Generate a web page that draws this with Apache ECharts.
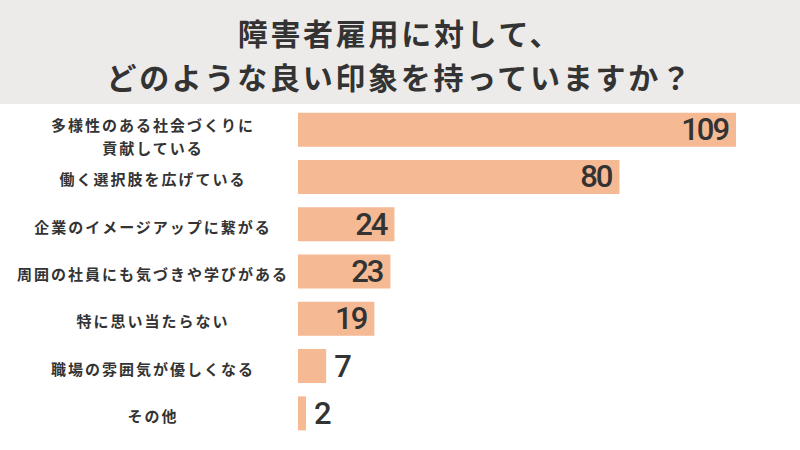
<!DOCTYPE html>
<html>
<head>
<meta charset="utf-8">
<script src="https://cdn.jsdelivr.net/npm/echarts@6/dist/echarts.min.js"></script>
<style>
  html, body { margin: 0; padding: 0; background: #fff; }
  #main { width: 800px; height: 450px; }
  /* 文字間隔（svgレンダラーのtext要素に適用） */
  #main text[style*="30px"] { letter-spacing: 2.7px; }
  #main text[style*="15px"] { letter-spacing: 2px; }
  #main text[style*="31px"] { letter-spacing: -2px; }
</style>
</head>
<body>
<div id="main"></div>
<script>
// 回答項目
var categories = [
    '多様性のある社会づくりに\n貢献している',
    '働く選択肢を広げている',
    '企業のイメージアップに繋がる',
    '周囲の社員にも気づきや学びがある',
    '特に思い当たらない',
    '職場の雰囲気が優しくなる',
    'その他'
];
// 回答数
var counts = [109, 80, 24, 23, 19, 7, 2];

var titleText = '障害者雇用に対して、\nどのような良い印象を持っていますか？';

var chart = echarts.init(document.getElementById('main'), null, {renderer: 'svg'});

// 小さい値は棒の外側にラベル
var seriesData = counts.map(function (v) {
    return {
        value: v,
        label: {position: v >= 15 ? 'insideRight' : 'right'}
    };
});

var labelFont = {
    align: 'center',
    fontFamily: '"Noto Sans CJK JP", sans-serif',
    fontSize: 15,
    fontWeight: 'bold',
    color: '#333333'
};

chart.setOption({
    backgroundColor: '#ffffff',
    graphic: [{
        type: 'rect',
        left: 0, top: 0,
        shape: {width: 800, height: 104},
        style: {fill: '#ecebe9'},
        z: -10
    }],
    title: {
        text: titleText,
        left: 'center',
        top: 5,
        textStyle: {
            fontFamily: '"Noto Sans CJK JP", sans-serif',
            fontSize: 30,
            fontWeight: 'bold',
            color: '#333333',
            lineHeight: 44
        }
    },
    grid: {
        left: 298,
        right: 64,
        top: 106,
        bottom: 13,
        containLabel: false,
        outerBoundsMode: 'none'
    },
    xAxis: {
        type: 'value',
        min: 0,
        max: 109,
        show: false
    },
    yAxis: {
        type: 'category',
        data: categories,
        inverse: true,
        axisLine: {show: false},
        axisTick: {show: false},
        splitLine: {show: false},
        axisLabel: {
            align: 'center',
            margin: 145,
            fontFamily: '"Noto Sans CJK JP", sans-serif',
            fontSize: 15,
            fontWeight: 'bold',
            color: '#333333',
            formatter: function (v) {
                var lines = v.split('\n');
                if (lines.length > 1) {
                    return '{a|' + lines[0] + '}\n{b|' + lines[1] + '}';
                }
                return '{c|' + v + '}';
            },
            rich: {
                a: Object.assign({lineHeight: 36}, labelFont),
                b: Object.assign({lineHeight: 10}, labelFont),
                c: Object.assign({lineHeight: 20, padding: [4, 0, 0, 0]}, labelFont)
            }
        }
    },
    series: [{
        type: 'bar',
        data: seriesData,
        barWidth: 34,
        itemStyle: {color: '#f5b994'},
        label: {
            show: true,
            distance: 8,
            fontFamily: '"Liberation Sans Narrow", "Roboto", sans-serif',
            fontSize: 31,
            fontWeight: 500,
            color: '#333333'
        },
        animation: false
    }]
});
</script>
</body>
</html>
